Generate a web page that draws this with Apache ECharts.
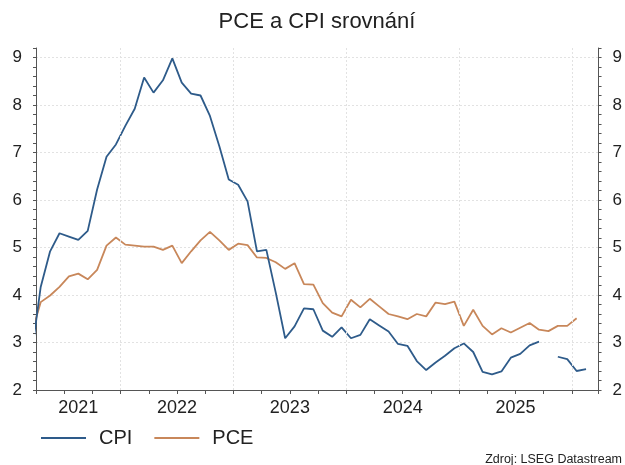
<!DOCTYPE html>
<html>
<head>
<meta charset="utf-8">
<title>PCE a CPI srovnání</title>
<script src="https://cdn.jsdelivr.net/npm/echarts@6/dist/echarts.min.js"></script>
<style>
  html, body { margin: 0; padding: 0; background: #fff; }
  #main { width: 625px; height: 465px; }
</style>
</head>
<body>
<div id="main"></div>
<script>
// monthly data, Mar 2021 .. Feb 2026
const firstMonth = '2021-03';
const cpi = [
  2.7, 4.17, 4.92, 5.30, 5.23, 5.16, 5.35, 6.22, 6.91, 7.17,
  7.56, 7.92, 8.58, 8.26, 8.52, 8.98, 8.47, 8.24, 8.20, 7.77, 7.13, 6.43,
  6.32, 5.97, 4.92, 4.95, 4.05, 3.09, 3.34, 3.72, 3.70, 3.25, 3.12, 3.32,
  3.09, 3.16, 3.49, 3.36, 3.23, 2.97, 2.93, 2.61, 2.42, 2.58, 2.72, 2.88,
  2.98, 2.80, 2.38, 2.33, 2.39, 2.68, 2.76, 2.94, 3.02, null, 2.70, 2.65,
  2.40, 2.44
];
const pce = [
  3.17, 3.85, 3.99, 4.17, 4.39, 4.45, 4.33, 4.53, 5.04, 5.21,
  5.06, 5.04, 5.02, 5.02, 4.95, 5.04, 4.67, 4.92, 5.15, 5.33, 5.15, 4.95,
  5.08, 5.05, 4.79, 4.78, 4.69, 4.55, 4.67, 4.23, 4.22, 3.83, 3.63, 3.55,
  3.90, 3.74, 3.92, 3.76, 3.60, 3.55, 3.49, 3.60, 3.55, 3.84, 3.81, 3.86,
  3.35, 3.69, 3.35, 3.17, 3.30, 3.21, 3.31, 3.41, 3.27, 3.24, 3.35, 3.35,
  3.51
];
const yearLabels = ['2021', '2022', '2023', '2024', '2025'];
const seriesNames = ['CPI', 'PCE'];

// x in months since Jan 2021, each value placed mid-month
const startIdx = (+firstMonth.slice(0, 4) - 2021) * 12 + (+firstMonth.slice(5) - 1);
const toPairs = arr => arr.map((v, i) => [startIdx + i + 0.5, v]);

const xMin = 3, xMax = 62.83;
const yearStarts = [12, 24, 36, 48, 60];
const labelAt = yearLabels.map((y, i) => {
  const a = Math.max(xMin, i * 12), b = Math.min(xMax, i * 12 + 12);
  return (a + b) / 2;
});

const font = '"Liberation Sans", Arial, sans-serif';
const axisColor = '#555';
const gridColor = '#e2e2e2';
const cpiColor = '#2e5b8a';
const pceColor = '#c8875a';

const chart = echarts.init(document.getElementById('main'));
chart.setOption({
  animation: false,
  textStyle: { fontFamily: font },
  title: {
    text: 'PCE a CPI srovnání',
    left: 317, top: 11, padding: 0, textAlign: 'center',
    textStyle: { fontSize: 22, fontWeight: 'normal', color: '#222', fontFamily: font }
  },
  graphic: [{
    type: 'text', right: 3, top: 453,
    style: { text: 'Zdroj: LSEG Datastream', fontSize: 12.5, fill: '#222', fontFamily: font }
  }],
  legend: {
    data: seriesNames.map(n => ({ name: n, icon: 'rect' })),
    left: 41, top: 428, padding: 0,
    itemWidth: 45, itemHeight: 2, itemGap: 22,
    textStyle: { fontSize: 20, color: '#222', fontFamily: font, padding: [0, 0, 0, 8] }
  },
  grid: { left: 36, right: 26, top: 48, bottom: 75 },
  xAxis: [{
    type: 'value', min: xMin, max: xMax, interval: 3,
    axisLine: { lineStyle: { color: axisColor } },
    axisTick: { show: true, length: 4, lineStyle: { color: axisColor } },
    axisLabel: { show: false },
    splitLine: { show: false }
  }, {
    type: 'value', min: xMin, max: xMax, interval: 1.5, position: 'bottom',
    axisLine: { show: false }, axisTick: { show: false }, splitLine: { show: false },
    axisLabel: {
      margin: 9, fontSize: 18, color: '#222', fontFamily: font,
      formatter: v => {
        const k = labelAt.findIndex(p => Math.abs(p - v) < 1e-6);
        return k >= 0 ? yearLabels[k] : '';
      }
    }
  }],
  yAxis: [{
    type: 'value', min: 2, max: 9.2, interval: 1, position: 'left',
    axisLine: { show: true, lineStyle: { color: axisColor } },
    axisTick: { show: false },
    axisLabel: { margin: 14, fontSize: 17, color: '#222', fontFamily: font, showMaxLabel: false },
    splitLine: { show: true, showMaxLine: false, showMinLine: false,
      lineStyle: { color: gridColor, type: [2, 2], width: 1 } }
  }, {
    type: 'value', min: 2, max: 9.2, interval: 0.2, position: 'left',
    axisLine: { show: false },
    axisTick: { show: true, length: 3, lineStyle: { color: axisColor } },
    axisLabel: { show: false }, splitLine: { show: false }
  }, {
    type: 'value', min: 2, max: 9.2, interval: 1, position: 'right',
    axisLine: { show: true, lineStyle: { color: axisColor } },
    axisTick: { show: false },
    axisLabel: { margin: 14, fontSize: 17, color: '#222', fontFamily: font, showMaxLabel: false },
    splitLine: { show: false }
  }, {
    type: 'value', min: 2, max: 9.2, interval: 0.2, position: 'right',
    axisLine: { show: false },
    axisTick: { show: true, length: 3, lineStyle: { color: axisColor } },
    axisLabel: { show: false }, splitLine: { show: false }
  }],
  series: [{
    name: 'years', type: 'line', data: [], z: 1, silent: true,
    markLine: {
      silent: true, symbol: 'none', animation: false,
      label: { show: false },
      lineStyle: { color: gridColor, type: [2, 2], width: 1 },
      data: yearStarts.map(v => ({ xAxis: v }))
    }
  }, {
    name: 'CPI', type: 'line', data: toPairs(cpi), z: 3,
    showSymbol: false, symbol: 'none', connectNulls: false,
    lineStyle: { color: cpiColor, width: 1.8 }, itemStyle: { color: cpiColor }
  }, {
    name: 'PCE', type: 'line', data: toPairs(pce), z: 2,
    showSymbol: false, symbol: 'none',
    lineStyle: { color: pceColor, width: 1.8 }, itemStyle: { color: pceColor }
  }]
});
</script>
</body>
</html>
